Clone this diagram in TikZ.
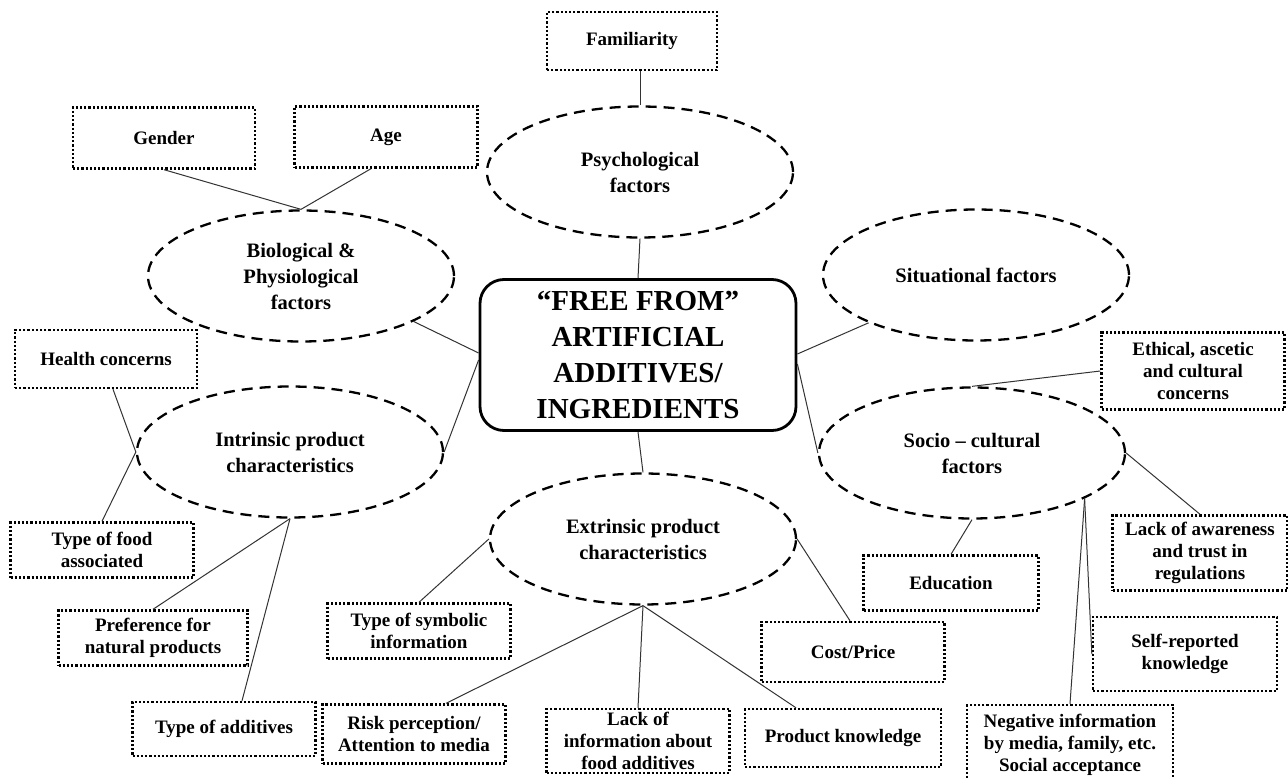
\documentclass[tikz,border=0pt]{standalone}
\usepackage{fontspec}
\setmainfont{Liberation Serif}
\usetikzlibrary{shapes.geometric}

\begin{document}
\begin{tikzpicture}[x=1pt,y=-1pt,
    factor/.style={shape=ellipse,draw=black,line width=2.3pt,dash pattern=on 11pt off 7pt,minimum width=306pt,minimum height=131pt,inner sep=0pt,align=center,font=\bfseries\fontsize{20.5}{26}\selectfont},
    item/.style={shape=rectangle,draw=black,line width=2.4pt,dash pattern=on 2.2pt off 2pt,inner sep=0pt,align=center,font=\bfseries\fontsize{19}{22}\selectfont},
    boxsize/.style 2 args={minimum width=#1pt,minimum height=#2pt},
    core/.style={shape=rectangle,rounded corners=24pt,draw=black,line width=2.8pt,minimum width=316pt,minimum height=151pt,inner sep=0pt,align=center,font=\bfseries\fontsize{29}{36}\selectfont},
    link/.style={color=black!80,line width=1pt}]
      \useasboundingbox[fill=white] (0,0) rectangle (1288,778);

      \node[core](Free) at (638,355) {“FREE FROM”\\ARTIFICIAL\\ADDITIVES/\\INGREDIENTS};

      \node[factor](Psy) at (640,172) {Psychological\\factors};
      \node[factor](Bio) at (301,276) {Biological \&\\Physiological\\factors};
      \node[factor](Sit) at (976,275) {Situational factors};
      \node[factor](Int) at (290,452) {Intrinsic product\\characteristics};
      \node[factor](Ext) at (643,539) {Extrinsic product\\characteristics};
      \node[factor](Soc) at (972,453) {Socio – cultural\\factors};

      \node[item,boxsize={170}{58}](Fam) at (632,41) {Familiarity};
      \node[item,boxsize={182}{61}](Gen) at (164,138) {Gender};
      \node[item,boxsize={183}{61}](Age) at (386,137) {Age};
      \node[item,boxsize={182}{58}](Hea) at (106,359) {Health concerns};
      \node[item,boxsize={183}{55}](Food) at (102,550) {Type of food\\associated};
      \node[item,boxsize={189}{55}](Pref) at (153,638) {Preference for\\natural products};
      \node[item,boxsize={183}{54}](Add) at (224,729) {Type of additives};
      \node[item,boxsize={183}{55}](Sym) at (419,631) {Type of symbolic\\information};
      \node[item,boxsize={183}{59}](Risk) at (414,734) {Risk perception/\\Attention to media};
      \node[item,boxsize={183}{64}](Lack) at (638,741) {Lack of\\information about\\food additives};
      \node[item,boxsize={196}{58}](Know) at (843,738) {Product knowledge};
      \node[item,boxsize={183}{60}](Cost) at (853,652) {Cost/Price};
      \node[item,boxsize={175}{55}](Edu) at (951,583) {Education};
      \node[item,boxsize={183}{77}](Eth) at (1193,371) {Ethical, ascetic\\and cultural\\concerns};
      \node[item,boxsize={175}{75}](Aware) at (1200,553) {Lack of awareness\\and trust in\\regulations};
      \node[item,boxsize={184}{74}](Self) at (1185,654) {Self-reported\\knowledge};
      \node[item,boxsize={206}{80}](Neg) at (1070,745) {Negative information\\by media, family, etc.\\Social acceptance};

      \path [link] ([xshift=8]Fam.south) edge (Psy.north);
      \path [link] (Psy.south) edge (Free.north);
      \path [link] (Gen.south) edge (Bio.north);
      \path [link] ([xshift=-15]Age.south) edge (Bio.north);
      \path [link] (Bio.-22) edge ([yshift=2]Free.west);
      \path [link] ([yshift=-5]Free.west) edge (Int.east);
      \path [link] (Sit.204) edge ([yshift=1]Free.east);
      \path [link] ([yshift=-9]Free.east) edge (Soc.west);
      \path [link] ([xshift=7]Hea.south) edge (Int.west);
      \path [link] (Food.north) edge (Int.west);
      \path [link] (Pref.north) edge (Int.south);
      \path [link] ([xshift=18]Add.north) edge (Int.south);
      \path [link] (Free.south) edge (Ext.north);
      \path [link] (Sym.north) edge (Ext.west);
      \path [link] ([xshift=-3]Cost.north) edge (Ext.east);
      \path [link] ([xshift=32]Risk.north) edge (Ext.south);
      \path [link] (Lack.north) edge (Ext.south);
      \path [link] ([xshift=-47]Know.north) edge (Ext.south);
      \path [link] (Eth.west) edge (Soc.north);
      \path [link] (Soc.east) edge (Aware.north);
      \path [link] (Edu.north) edge (Soc.south);
      \path [link] (Soc.-22) edge (Neg.north);
      \path [link] (Soc.-22) edge (Self.west);
    \end{tikzpicture}
\end{document}
